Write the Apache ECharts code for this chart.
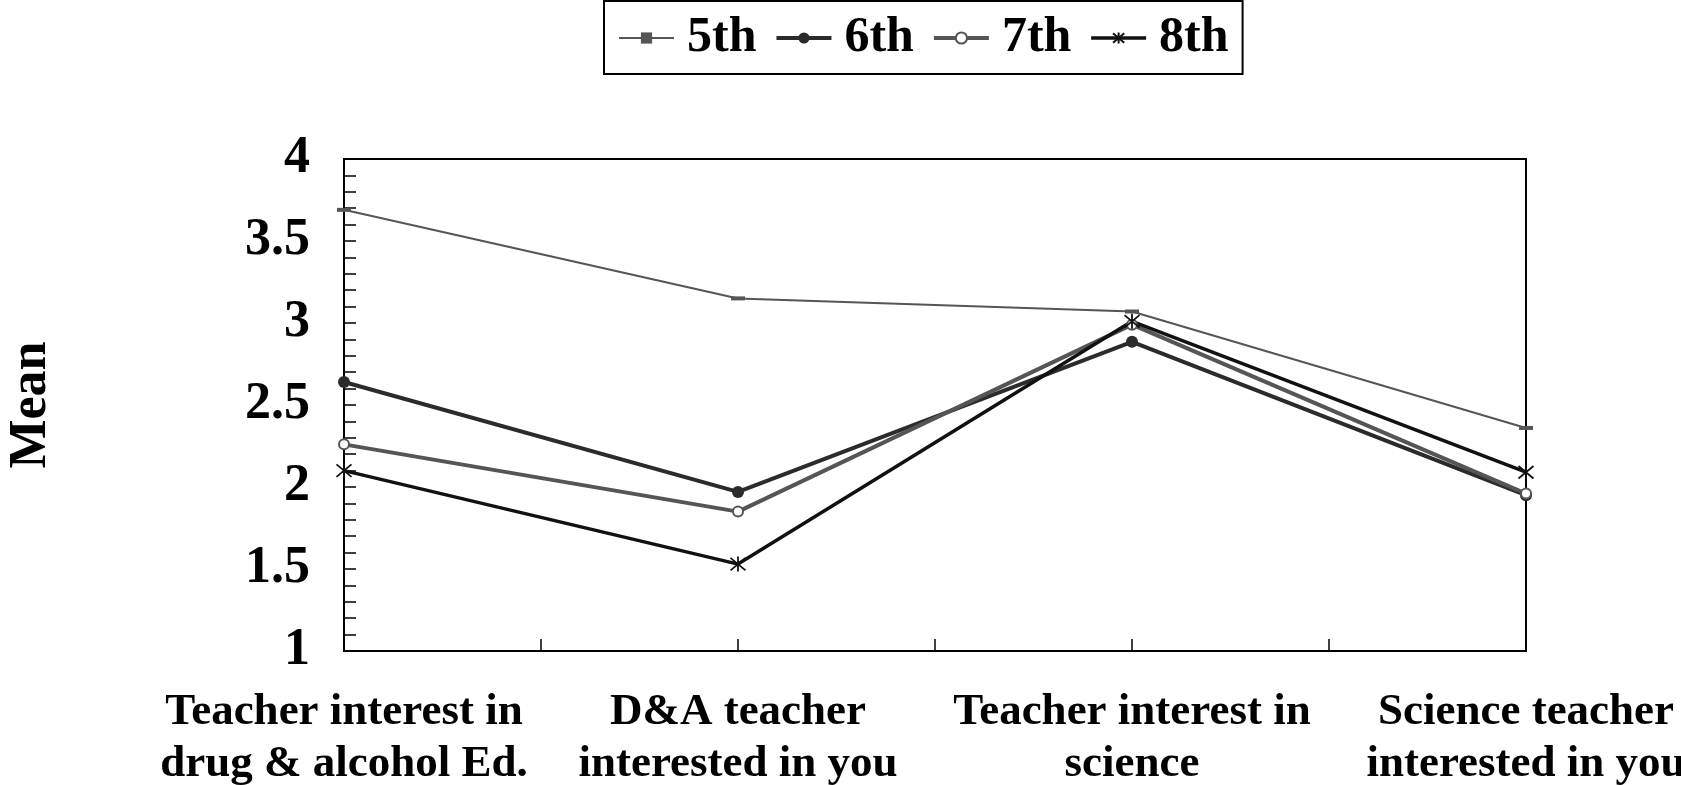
<!DOCTYPE html>
<html>
<head>
<meta charset="utf-8">
<script src="https://cdn.jsdelivr.net/npm/echarts@6/dist/echarts.min.js"></script>
<style>
  html, body { margin: 0; padding: 0; background: #fff; }
  #chart { width: 1681px; height: 785px; }
</style>
</head>
<body>
<div id="chart"></div>
<script>
const categories = [
  "Teacher interest in\ndrug & alcohol Ed.",
  "D&A teacher\ninterested in you",
  "Teacher interest in\nscience",
  "Science teacher\ninterested in you"
];
const seriesNames = ["5th", "6th", "7th", "8th"];
const grade5 = [3.69, 3.15, 3.07, 2.36];
const grade6 = [2.64, 1.97, 2.885, 1.95];
const grade7 = [2.26, 1.85, 2.99, 1.96];
const grade8 = [2.10, 1.53, 3.01, 2.09];
const yTicks = { min: 1, max: 4, step: 0.5 };

const FONT = "Liberation Serif";
const toPairs = arr => arr.map((v, i) => [i, v]);
const asterisk = 'path://M0,0L10,10M10,0L0,10M5,-1L5,11';
const lineWidths = [2, 4, 4, 3.5];

const chart = echarts.init(document.getElementById('chart'), null, { renderer: 'canvas' });
chart.setOption({
  backgroundColor: '#ffffff',
  animation: false,
  legend: {
    left: 604, top: 1,
    padding: [12, 14, 11, 14],
    borderColor: '#000', borderWidth: 2,
    itemWidth: 55, itemHeight: 14, itemGap: 18,
    textStyle: { fontFamily: FONT, fontWeight: 'bold', fontSize: 50, color: '#000', padding: [0, 0, 0, 8] },
    data: seriesNames.map((n, i) => ({ name: n, lineStyle: { width: lineWidths[i] } }))
  },
  grid: {
    left: 344, top: 159, right: 155, bottom: 134,
    outerBoundsMode: 'none',
    show: true, borderColor: '#000', borderWidth: 2, backgroundColor: 'transparent'
  },
  xAxis: {
    type: 'value', min: 0, max: categories.length - 1, interval: 1,
    axisLine: { show: true, lineStyle: { color: '#000', width: 2 } },
    axisTick: { show: true, inside: true, length: 12, lineStyle: { color: '#000', width: 1.5 } },
    minorTick: { show: true, splitNumber: 2, length: 12, lineStyle: { color: '#000', width: 1.5 } },
    splitLine: { show: false },
    axisLabel: {
      margin: 35,
      formatter: v => categories[Math.round(v)] || '',
      fontFamily: FONT, fontWeight: 'bold', fontSize: 45, lineHeight: 52, color: '#000', align: 'center'
    }
  },
  yAxis: {
    type: 'value', min: yTicks.min, max: yTicks.max, interval: yTicks.step,
    name: 'Mean', nameLocation: 'middle', nameGap: 286, nameRotate: 90,
    nameTextStyle: { fontFamily: FONT, fontWeight: 'bold', fontSize: 52, color: '#000' },
    axisLine: { show: true, lineStyle: { color: '#000', width: 2 } },
    axisTick: { show: true, inside: true, length: 12, lineStyle: { color: '#000', width: 1.5 } },
    minorTick: { show: true, splitNumber: 5, length: 12, lineStyle: { color: '#000', width: 1.5 } },
    splitLine: { show: false },
    axisLabel: {
      margin: 34,
      formatter: v => String(v),
      fontFamily: FONT, fontWeight: 'bold', fontSize: 52, color: '#000'
    }
  },
  series: [
    {
      name: seriesNames[0], type: 'line', data: toPairs(grade5), clip: false,
      symbol: 'rect', symbolSize: [14, 4],
      lineStyle: { color: '#555', width: lineWidths[0] },
      itemStyle: { color: '#555' }
    },
    {
      name: seriesNames[1], type: 'line', data: toPairs(grade6), clip: false,
      symbol: 'circle', symbolSize: 12,
      lineStyle: { color: '#2b2b2b', width: lineWidths[1] },
      itemStyle: { color: '#2b2b2b' }
    },
    {
      name: seriesNames[2], type: 'line', data: toPairs(grade7), clip: false,
      symbol: 'emptyCircle', symbolSize: 10,
      lineStyle: { color: '#555', width: lineWidths[2] },
      itemStyle: { color: '#555', borderColor: '#555', borderWidth: 2 }
    },
    {
      name: seriesNames[3], type: 'line', data: toPairs(grade8), clip: false,
      symbol: asterisk, symbolSize: 15,
      lineStyle: { color: '#111', width: lineWidths[3] },
      itemStyle: { color: 'transparent', borderColor: '#111', borderWidth: 1.8 }
    }
  ]
});
</script>
</body>
</html>
